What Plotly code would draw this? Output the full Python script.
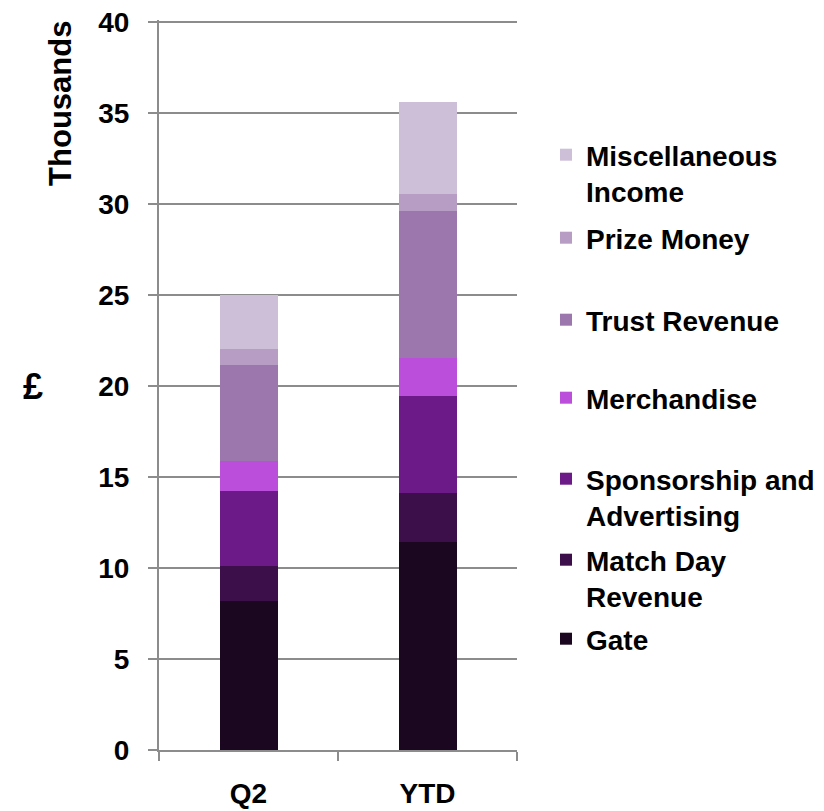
import plotly.graph_objects as go

categories = ["Q2", "YTD"]
series_names = ["Gate", "Match Day<br>Revenue", "Sponsorship and<br>Advertising", "Merchandise",
                "Trust Revenue", "Prize Money", "Miscellaneous<br>Income"]
gate = [8.17, 11.42]
match_day = [1.94, 2.71]
sponsorship = [4.14, 5.30]
merchandise = [1.61, 2.09]
trust = [5.31, 8.11]
prize = [0.86, 0.91]
misc = [2.97, 5.09]
y_ticks = [0, 5, 10, 15, 20, 25, 30, 35, 40]

colors = ["#1B0820", "#3C0F4A", "#6B1A87", "#BB4FDB", "#9B77AD", "#B79DC4", "#CDBFD8"]
values = [gate, match_day, sponsorship, merchandise, trust, prize, misc]

FONT = "Liberation Sans, Arial, sans-serif"
OFF = 8  # page body margin
W, H = 824 - OFF, 811 - OFF
L, T = 159 - OFF, 20 - OFF
R = W - (517 - OFF)
B = H - (750 - OFF)
pw, ph = W - L - R, H - T - B
y_top = 40 * ph / 728.0  # keep 40 at the reference pixel row

# legend first-line centre (page pixels) for each series, bottom to top order
legend_centres = [641, 562, 481, 400, 322, 240, 157]

fig = go.Figure()
legend_layouts = {}
for i, (name, vals, col) in enumerate(zip(series_names, values, colors)):
    key = "legend" if i == 0 else f"legend{i+1}"
    fig.add_trace(go.Bar(x=categories, y=vals, name=name, marker=dict(color=col, line=dict(width=0)),
                         legend=key))
    top_px = legend_centres[i] - 27 - OFF
    legend_layouts[key] = dict(
        x=(546 - OFF - L) / pw, y=(H - B - top_px) / ph, xanchor="left", yanchor="top",
        font=dict(family=FONT, size=28, color="black", weight="bold"),
        valign="top", bgcolor="rgba(0,0,0,0)", borderwidth=0,
    )

fig.update_layout(
    barmode="stack",
    bargap=0.676,
    width=W, height=H,
    margin=dict(l=L, r=R, t=T, b=B, autoexpand=False),
    paper_bgcolor="white", plot_bgcolor="white",
    font=dict(family=FONT, size=28, color="black", weight="bold"),
    showlegend=True,
    xaxis=dict(
        type="category", range=[-0.5, 1.5], tickson="boundaries",
        ticks="outside", ticklen=9, tickwidth=2, tickcolor="#8c8c8c",
        showline=True, linecolor="#8c8c8c", linewidth=2, showgrid=False,
        ticklabelstandoff=17,
        tickfont=dict(family=FONT, size=28, color="black", weight="bold"),
    ),
    yaxis=dict(
        range=[0, y_top], tickvals=y_ticks, ticks="outside", ticklen=9, tickwidth=2,
        tickcolor="#8c8c8c", showline=True, linecolor="#8c8c8c", linewidth=2,
        showgrid=True, gridcolor="#8c8c8c", gridwidth=2, zeroline=False,
        ticklabelstandoff=13, ticklabeloverflow="allow",
        tickfont=dict(family=FONT, size=28, color="black", weight="bold"),
    ),
    annotations=[
        dict(text="£", xref="paper", yref="y", x=(33 - OFF - L) / pw, y=20, showarrow=False,
             font=dict(family=FONT, size=36, color="black", weight="bold"),
             xanchor="center", yanchor="middle"),
        dict(text="Thousands", xref="paper", yref="y", x=(61 - OFF - L) / pw, y=35.5, showarrow=False,
             textangle=-90, font=dict(family=FONT, size=31, color="black", weight="bold"),
             xanchor="center", yanchor="middle"),
    ],
    **legend_layouts,
)

fig.write_html("out.html")
